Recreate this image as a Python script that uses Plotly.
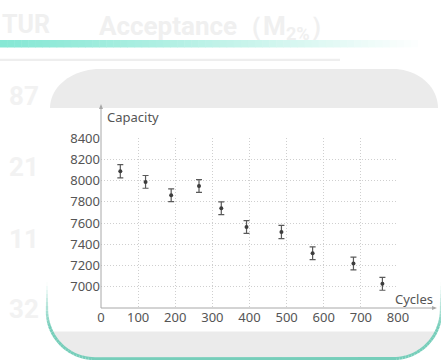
import math
import plotly.graph_objects as go

# ---- data ----
cycles = [52, 120, 189, 264, 324, 392, 486, 570, 680, 758]
capacity = [8087, 7987, 7862, 7949, 7738, 7562, 7515, 7316, 7219, 7028]
errors = [62, 60, 60, 60, 60, 60, 62, 60, 60, 61]
x_ticks = [0, 100, 200, 300, 400, 500, 600, 700, 800]
y_ticks = [7000, 7200, 7400, 7600, 7800, 8000, 8200, 8400]
side_numbers = ["87", "21", "11", "32"]

W, H = 441, 360
L, R, T, B = 101, 43, 138, 52
PW, PH = W - L - R, H - T - B


def px(x):
    return (x - L) / PW


def py(y):
    return (H - B - y) / PH


def path(points, close=True):
    s = "M " + " L ".join(f"{px(x):.5f},{py(y):.5f}" for x, y in points)
    return s + (" Z" if close else "")


fig = go.Figure()
fig.add_trace(go.Scatter(
    x=cycles, y=capacity, mode="markers",
    marker=dict(size=4, color="#3d3d3d"),
    error_y=dict(type="data", array=errors, visible=True,
                 color="#5a5a5a", thickness=1.2, width=3),
    showlegend=False, cliponaxis=False,
))

shapes = []
# top grey rounded panel
pts = []
for i in range(0, 21):
    t = math.pi + (math.pi / 2) * i / 20
    pts.append((100 + 50 * math.cos(t), 108 + 39 * math.sin(t)))
for i in range(0, 21):
    t = 1.5 * math.pi + (math.pi / 2) * i / 20
    pts.append((393 + 45 * math.cos(t), 108 + 39 * math.sin(t)))
shapes.append(dict(type="path", xref="paper", yref="paper", path=path(pts),
                   fillcolor="#ebebeb", line=dict(width=0), layer="below"))

# gradient bar
n = 60
x0, x1 = 0, 425
for i in range(n):
    t = i / (n - 1)
    f = t ** 1.1
    c = [int(a + (255 - a) * f) for a in (135, 232, 213)]
    xa = x0 + (x1 - x0) * i / n
    xb = x0 + (x1 - x0) * (i + 1) / n + 0.5
    shapes.append(dict(type="rect", xref="paper", yref="paper",
                       x0=px(xa), x1=px(xb), y0=py(47.5), y1=py(40),
                       fillcolor=f"rgb({c[0]},{c[1]},{c[2]})", line=dict(width=0), layer="below"))
# thin grey line
shapes.append(dict(type="rect", xref="paper", yref="paper",
                   x0=px(0), x1=px(340), y0=py(61), y1=py(58.7),
                   fillcolor="#eeeeee", line=dict(width=0), layer="below"))

# bottom card: corners radius 48, sides at x=47 / 441, bottom at 358.7
cxl, cxr, ccy, rr, yb = 95, 393, 310.7, 48, 358.7
xl_side, xr_side = cxl - rr, cxr + rr

# grey band inside the card
yband = 331.5
dl = math.sqrt(rr * rr - (yband - ccy) ** 2)
a0 = math.asin((yband - ccy) / rr)
band = [(cxl - dl, yband), (cxr + dl, yband)]
for i in range(21):
    t = a0 + (math.pi / 2 - a0) * i / 20
    band.append((cxr + rr * math.cos(t), ccy + rr * math.sin(t)))
for i in range(21):
    t = math.pi / 2 + (math.pi / 2 - a0) * i / 20
    band.append((cxl + rr * math.cos(t), ccy + rr * math.sin(t)))
shapes.append(dict(type="path", xref="paper", yref="paper", path=path(band),
                   fillcolor="#ebebeb", line=dict(width=0), layer="below"))

# teal border outline, fading upward
outline = []
for yy in range(278, int(ccy), 4):
    outline.append((xl_side, yy))
for i in range(25):
    t = math.pi - (math.pi / 2) * i / 24
    outline.append((cxl + rr * math.cos(t), ccy + rr * math.sin(t)))
for i in range(1, 25):
    t = math.pi / 2 - (math.pi / 2) * i / 24
    outline.append((cxr + rr * math.cos(t), ccy + rr * math.sin(t)))
for yy in range(int(ccy), 277, -4):
    outline.append((xr_side, yy))
for a, b in zip(outline[:-1], outline[1:]):
    ym = (a[1] + b[1]) / 2
    op = max(0.0, min(1.0, (ym - 282) / 45))
    if op <= 0.01:
        continue
    shapes.append(dict(type="path", xref="paper", yref="paper", path=path([a, b], close=False),
                       line=dict(color=f"rgba(118,206,186,{op:.2f})", width=1.2 + 1.8 * op),
                       layer="below"))

# axis lines with small arrowheads
axc = "#a8a8a8"
ax_y0, ax_x1 = 104, 437
shapes.append(dict(type="line", xref="paper", yref="paper",
                   x0=px(L), x1=px(L), y0=py(H - B), y1=py(ax_y0 + 2),
                   line=dict(color=axc, width=1)))
shapes.append(dict(type="line", xref="paper", yref="paper",
                   x0=px(L), x1=px(ax_x1 - 2), y0=py(H - B), y1=py(H - B),
                   line=dict(color=axc, width=1)))
shapes.append(dict(type="path", xref="paper", yref="paper",
                   path=path([(L, ax_y0), (L - 2, ax_y0 + 5), (L + 2, ax_y0 + 5)]),
                   fillcolor=axc, line=dict(width=0)))
shapes.append(dict(type="path", xref="paper", yref="paper",
                   path=path([(ax_x1, H - B), (ax_x1 - 5, H - B - 2), (ax_x1 - 5, H - B + 2)]),
                   fillcolor=axc, line=dict(width=0)))

fig.update_layout(shapes=shapes)

ann = []
faint = "#f0f0f0"
ann.append(dict(text="<b>TUR</b>", x=px(0), y=py(25), xref="paper", yref="paper",
                xanchor="left", yanchor="middle", showarrow=False,
                font=dict(family="Roboto", size=25, color=faint)))
ann.append(dict(text="<b>Acceptance（M<sub>2%</sub>）</b>", x=px(97), y=py(27), xref="paper", yref="paper",
                xanchor="left", yanchor="middle", showarrow=False,
                font=dict(family="Roboto", size=26, color=faint)))
for lab, yy in zip(side_numbers, [96, 167, 239, 309]):
    ann.append(dict(text=f"<b>{lab}</b>", x=px(24), y=py(yy), xref="paper", yref="paper",
                    xanchor="center", yanchor="middle", showarrow=False,
                    font=dict(family="Roboto", size=26, color="#f2f2f2")))
ann.append(dict(text="Capacity", x=px(105), y=py(117), xref="paper", yref="paper",
                xanchor="left", yanchor="middle", showarrow=False,
                font=dict(family="Noto Sans", size=13, color="#555555")))
ann.append(dict(text="Cycles", x=px(435), y=py(299), xref="paper", yref="paper",
                xanchor="right", yanchor="middle", showarrow=False,
                font=dict(family="Noto Sans", size=13, color="#555555")))
fig.update_layout(annotations=ann)

grid_kw = dict(showgrid=True, gridcolor="#cfcfcf", griddash="1px,2px", gridwidth=1,
               zeroline=False, showline=False, ticks="",
               tickfont=dict(family="Noto Sans", size=13, color="#555555"), fixedrange=True)
fig.update_layout(
    width=W, height=H,
    margin=dict(l=L, r=R, t=T, b=B, pad=0),
    paper_bgcolor="white", plot_bgcolor="rgba(0,0,0,0)",
    xaxis=dict(range=[0, 800], tickvals=x_ticks, **grid_kw),
    yaxis=dict(range=[6800, 8400], tickvals=y_ticks, **grid_kw),
)

fig.write_html("out.html", config={"displayModeBar": False},
               post_script="document.body.style.margin='0';document.body.style.padding='0';")
